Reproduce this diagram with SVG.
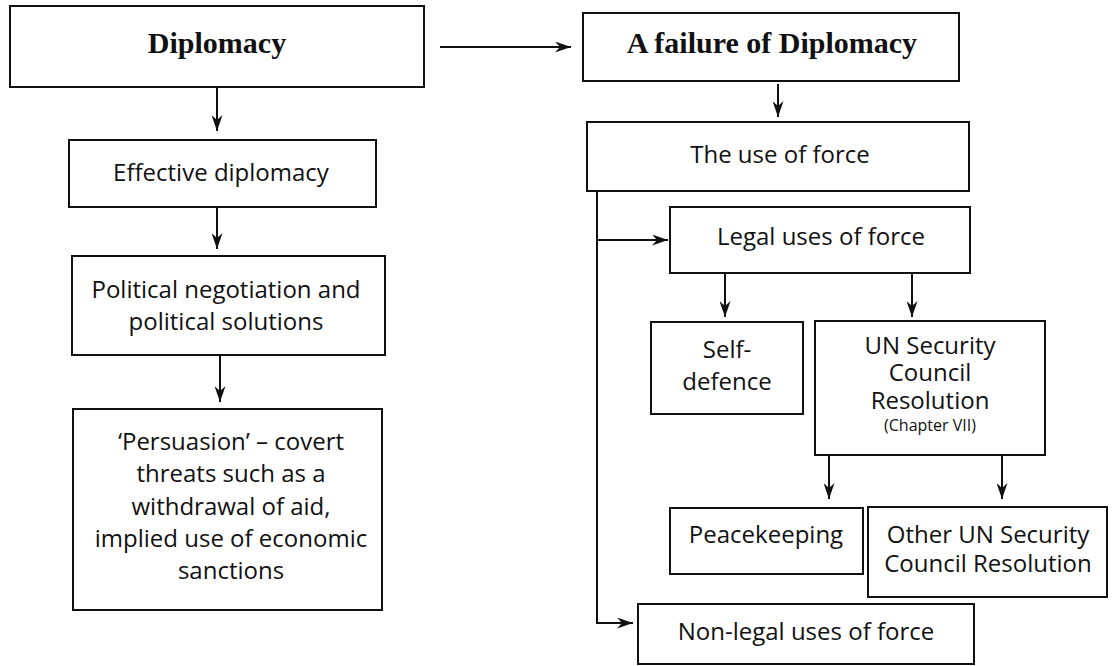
<svg xmlns="http://www.w3.org/2000/svg" width="1112" height="666" viewBox="0 0 1112 666">
<style>
.box{fill:#fff;stroke:#111;stroke-width:2}
.t{font-family:"Open Sans","Noto Sans",sans-serif;font-size:24px;fill:#111;text-anchor:middle}
.s{font-family:"Open Sans","Noto Sans",sans-serif;font-size:16px;fill:#111;text-anchor:middle}
.h{font-family:"Liberation Serif","Times New Roman",serif;font-size:30px;font-weight:bold;fill:#111;text-anchor:middle}
.c{fill:none;stroke:#111;stroke-width:2}
</style>
<defs>
<marker id="ah" viewBox="0 0 16 11" refX="16" refY="5.5" markerWidth="16" markerHeight="11" markerUnits="userSpaceOnUse" orient="auto">
<path d="M0,0 L16,5.5 L0,11 L5,5.5 Z" fill="#111"/>
</marker>
</defs>
<rect width="1112" height="666" fill="#fff"/>
<g id="connectors">
<line class="c" x1="217" y1="87" x2="217" y2="131" marker-end="url(#ah)"/>
<line class="c" x1="217" y1="207" x2="217" y2="249" marker-end="url(#ah)"/>
<line class="c" x1="220" y1="355" x2="220" y2="402" marker-end="url(#ah)"/>
<line class="c" x1="440" y1="47" x2="571" y2="47" marker-end="url(#ah)"/>
<line class="c" x1="778" y1="84" x2="778" y2="117" marker-end="url(#ah)"/>
<polyline class="c" points="597,191 597,623 633,623" marker-end="url(#ah)"/>
<line class="c" x1="597" y1="240" x2="668" y2="240" marker-end="url(#ah)"/>
<line class="c" x1="725" y1="273" x2="725" y2="317" marker-end="url(#ah)"/>
<line class="c" x1="912" y1="273" x2="912" y2="317" marker-end="url(#ah)"/>
<line class="c" x1="829" y1="455" x2="829" y2="499" marker-end="url(#ah)"/>
<line class="c" x1="1002" y1="455" x2="1002" y2="499" marker-end="url(#ah)"/>
</g>
<g id="diplomacy">
<rect class="box" x="10" y="6" width="414" height="81"/>
<text class="h" x="217" y="53">Diplomacy</text>
</g>
<g id="effective">
<rect class="box" x="69" y="140" width="307" height="67"/>
<text class="t" x="221" y="181">Effective diplomacy</text>
</g>
<g id="political">
<rect class="box" x="72" y="256" width="313" height="99"/>
<text class="t" x="226" y="298">Political negotiation and</text>
<text class="t" x="226" y="330">political solutions</text>
</g>
<g id="persuasion">
<rect class="box" x="73" y="409" width="309" height="201"/>
<text class="t" x="231" y="450">‘Persuasion’ – covert</text>
<text class="t" x="231" y="482">threats such as a</text>
<text class="t" x="231" y="514.5">withdrawal of aid,</text>
<text class="t" x="231" y="547">implied use of economic</text>
<text class="t" x="231" y="579">sanctions</text>
</g>
<g id="failure">
<rect class="box" x="583" y="13" width="376" height="68"/>
<text class="h" x="772" y="53">A failure of Diplomacy</text>
</g>
<g id="use-of-force">
<rect class="box" x="587" y="122" width="382" height="69"/>
<text class="t" x="780" y="163">The use of force</text>
</g>
<g id="legal">
<rect class="box" x="670" y="207" width="300" height="66"/>
<text class="t" x="821" y="245">Legal uses of force</text>
</g>
<g id="self-defence">
<rect class="box" x="651" y="322" width="152" height="92"/>
<text class="t" x="727" y="358">Self-</text>
<text class="t" x="727" y="390">defence</text>
</g>
<g id="unsc">
<rect class="box" x="815" y="321" width="230" height="134"/>
<text class="t" x="930" y="354">UN Security</text>
<text class="t" x="930" y="381">Council</text>
<text class="t" x="930" y="409">Resolution</text>
<text class="s" x="930" y="431">(Chapter VII)</text>
</g>
<g id="peacekeeping">
<rect class="box" x="670" y="508" width="193" height="66"/>
<text class="t" x="766" y="543">Peacekeeping</text>
</g>
<g id="other-unsc">
<rect class="box" x="868" y="507" width="239" height="90"/>
<text class="t" x="988" y="543">Other UN Security</text>
<text class="t" x="988" y="572">Council Resolution</text>
</g>
<g id="non-legal">
<rect class="box" x="638" y="604" width="336" height="60"/>
<text class="t" x="806" y="640">Non-legal uses of force</text>
</g>
</svg>
